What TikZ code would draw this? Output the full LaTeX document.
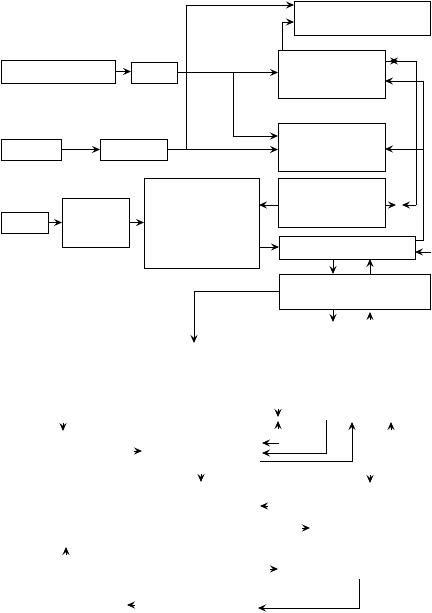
\documentclass[tikz,border=0pt]{standalone}
\usetikzlibrary{arrows.meta,calc}
\begin{document}
\begin{tikzpicture}[x=1pt,y=-1pt,line width=0.9pt,
  box/.style 2 args={draw,inner sep=0pt,outer sep=0pt,minimum width=#1pt,minimum height=#2pt},
  arr/.style={-{Stealth[length=8pt,width=7pt,inset=3pt]}}]
\useasboundingbox (0,0) rectangle (431,613);
% boxes
\node[box={114}{23}] (A) at (58,71.5) {};
\node[box={46}{21}] (B) at (154,72.5) {};
\node[box={60}{21}] (C) at (31,149.5) {};
\node[box={67}{21}] (D) at (133.5,149.5) {};
\node[box={136}{33.5}] (E) at (362,18.25) {};
\node[box={107}{48}] (F) at (331.5,74) {};
\node[box={107}{48}] (G) at (331.5,147) {};
\node[box={107}{49}] (H) at (331.5,202.5) {};
\node[box={115}{90}] (J) at (201.5,223) {};
\node[box={136}{23}] (I) at (347,247.5) {};
\node[box={151}{35}] (K) at (354.5,291.5) {};
\node[box={47}{21}] (L) at (24.5,222.5) {};
\node[box={67}{49}] (M) at (95.5,222.5) {};
% left / top connectors
\draw[arr] (A.east) -- (A.east -| B.west);
\draw[arr] (B.east) -- (B.east -| F.west);
\coordinate (jtop) at (186,5);
\coordinate (jbot) at (186,150);
\draw (jtop) -- (jbot);
\draw[arr] (jtop) -- (jtop -| E.west);
\coordinate (j3) at (233,73);
\coordinate (j3b) at (233,136);
\draw[arr] (j3) -- (j3b) -- (j3b -| G.west);
\draw[arr] (C.east) -- (C.east -| D.west);
\draw[arr] (D.east) -- (D.east -| G.west);
\coordinate (e2) at (282,22);
\draw[arr] (e2 |- F.north) -- (e2) -- (e2 -| E.west);
% right side bundle 1
\coordinate (r1t) at (416,61);
\coordinate (r1b) at (416,205);
\coordinate (x1) at (398,61);
\coordinate (x2) at (390,61);
\coordinate (x3) at (396,205);
\coordinate (x4) at (402,205);
\draw[arr] (r1t -| F.east) -- (x1);
\draw[arr] (r1b) -- (r1t) -- (x2);
\draw[arr] (r1b -| H.east) -- (x3);
\draw[arr] (r1b) -- (x4);
% right side bundle 2
\coordinate (r2t) at (423,81);
\coordinate (r2b) at (423,240);
\coordinate (r2g) at (423,149);
\draw[arr] (r2b -| I.east) -- (r2b) -- (r2t) -- (r2t -| F.east);
\draw[arr] (r2g) -- (r2g -| G.east);
\coordinate (rin) at (431,252);
\draw[arr] (rin) -- (rin -| I.east);
% middle
\coordinate (hj) at (0,205);
\draw[arr] (hj -| H.west) -- (hj -| J.east);
\coordinate (ji) at (0,247);
\draw[arr] (ji -| J.east) -- (ji -| I.west);
\coordinate (v1) at (333,0);
\coordinate (v2) at (370,0);
\draw[arr] (v1 |- I.south) -- (v1 |- K.north);
\draw[arr] (v2 |- K.north) -- (v2 |- I.south);
\coordinate (d1) at (333,322);
\draw[arr] (v1 |- K.south) -- (d1);
\coordinate (u1) at (370,312);
\draw[arr] ([yshift=-8pt]u1) -- (u1);
\coordinate (kl) at (194,291);
\coordinate (kd) at (194,343);
\draw[arr] (kl -| K.west) -- (kl) -- (kd);
\draw[arr] (L.east) -- (L.east -| M.west);
\draw[arr] (M.east) -- (M.east -| J.west);
% free arrowheads
\coordinate (f1) at (63,431);  \draw[arr] ([yshift=8pt]f1) -- (f1);
\coordinate (f2) at (142,451); \draw[arr] ([xshift=-8pt]f2) -- (f2);
\coordinate (f3) at (201,482); \draw[arr] ([yshift=8pt]f3) -- (f3);
\coordinate (f4) at (66,547);  \draw[arr] ([yshift=-8pt]f4) -- (f4);
\coordinate (f5) at (127,605); \draw[arr] ([xshift=8pt]f5) -- (f5);
\coordinate (f6) at (278,417); \draw[arr] ([yshift=8pt]f6) -- (f6);
\coordinate (f7) at (278,421); \draw[arr] ([yshift=-8pt]f7) -- (f7);
\coordinate (f8) at (391,422); \draw[arr] ([yshift=-8pt]f8) -- (f8);
\coordinate (f9) at (370,483); \draw[arr] ([yshift=8pt]f9) -- (f9);
\coordinate (f10) at (260,506); \draw[arr] ([xshift=8pt]f10) -- (f10);
\coordinate (f11) at (310,528); \draw[arr] ([xshift=-8pt]f11) -- (f11);
\coordinate (f12) at (278,569); \draw[arr] ([xshift=-8pt]f12) -- (f12);
% bottom lines
\coordinate (s1) at (279,443); \coordinate (s1e) at (262,443);
\draw[arr] (s1) -- (s1e);
\coordinate (s2a) at (326,420); \coordinate (s2b) at (326,453); \coordinate (s2c) at (262,453);
\draw[arr] (s2a) -- (s2b) -- (s2c);
\coordinate (s3a) at (260,461); \coordinate (s3b) at (352,461); \coordinate (s3c) at (352,422);
\draw[arr] (s3a) -- (s3b) -- (s3c);
\coordinate (s4a) at (359,579); \coordinate (s4b) at (359,608); \coordinate (s4c) at (258,608);
\draw[arr] (s4a) -- (s4b) -- (s4c);
\end{tikzpicture}
\end{document}
